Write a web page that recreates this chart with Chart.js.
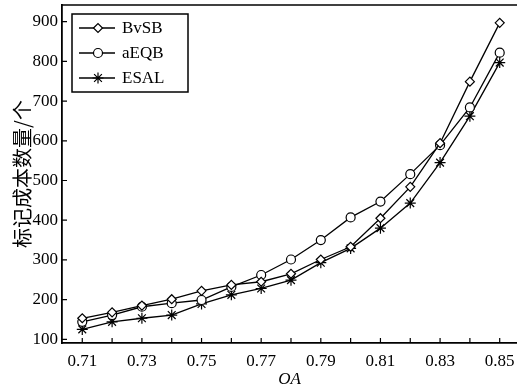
<!DOCTYPE html>
<html>
<head>
<meta charset="utf-8">
<script src="https://cdn.jsdelivr.net/npm/chart.js@4/dist/chart.umd.min.js"></script>
<style>
  html, body { margin: 0; padding: 0; background: #fff; overflow: hidden; }
  #chart { display: block; }
</style>
</head>
<body>
<canvas id="chart" width="517" height="390"></canvas>
<script>
// --- data ---
const oaValues = [0.71, 0.72, 0.73, 0.74, 0.75, 0.76, 0.77, 0.78, 0.79, 0.80, 0.81, 0.82, 0.83, 0.84, 0.85];
const bvsbCost = [153, 168, 185, 201, 222, 237, 245, 265, 301, 333, 405, 484, 594, 749, 897];
const aeqbCost = [144, 161, 182, 191, 199, 232, 262, 301, 350, 407, 447, 516, 589, 684, 822];
const esalCost = [125, 144, 153, 161, 189, 212, 228, 249, 293, 329, 380, 443, 545, 662, 797];
const yTickValues = [100, 200, 300, 400, 500, 600, 700, 800, 900];
const xLabelValues = [0.71, 0.73, 0.75, 0.77, 0.79, 0.81, 0.83, 0.85];

const serif = "'Liberation Serif', 'DejaVu Serif', serif";
const toPoints = arr => arr.map((v, i) => ({ x: oaValues[i], y: v }));

function series(label, data, style, radius) {
    return {
        label, data: toPoints(data),
        borderColor: "#000", borderWidth: 1.3,
        pointStyle: style, pointRadius: radius,
        pointBackgroundColor: "#fff", pointBorderColor: "#000", pointBorderWidth: 1.2,
        fill: false, tension: 0, clip: false
    };
}

// --- inward ticks + top frame line ---
const framePlugin = {
    id: "frame",
    afterDraw(chart) {
        const { ctx, chartArea: a, scales } = chart;
        ctx.save();
        ctx.strokeStyle = "#000";
        ctx.lineWidth = 1.5;
        ctx.beginPath();
        ctx.moveTo(a.left, a.top); ctx.lineTo(a.right, a.top);
        ctx.stroke();
        ctx.lineWidth = 1.2;
        ctx.beginPath();
        scales.x.ticks.forEach(t => {
            const px = scales.x.getPixelForValue(t.value);
            ctx.moveTo(px, a.bottom); ctx.lineTo(px, a.bottom - 5);
        });
        scales.y.ticks.forEach(t => {
            const py = scales.y.getPixelForValue(t.value);
            ctx.moveTo(a.left, py); ctx.lineTo(a.left + 5, py);
        });
        ctx.stroke();
        ctx.restore();
    }
};

// --- legend box inside the plot ---
const legendPlugin = {
    id: "boxLegend",
    afterDraw(chart) {
        const { ctx, chartArea: a } = chart;
        const x0 = a.left + 10, y0 = a.top + 9, w = 116, h = 78;
        ctx.save();
        ctx.fillStyle = "#fff";
        ctx.fillRect(x0, y0, w, h);
        ctx.strokeStyle = "#000";
        ctx.lineWidth = 1.5;
        ctx.strokeRect(x0, y0, w, h);
        chart.data.datasets.forEach((ds, i) => {
            const cy = y0 + 14 + i * 25;
            ctx.lineWidth = 1.3;
            ctx.beginPath();
            ctx.moveTo(x0 + 7, cy); ctx.lineTo(x0 + 43, cy);
            ctx.stroke();
            ctx.fillStyle = "#fff";
            ctx.lineWidth = 1.2;
            Chart.helpers.drawPoint(ctx, { pointStyle: ds.pointStyle, radius: ds.pointRadius, borderWidth: 1.2, rotation: 0 }, x0 + 26, cy);
            ctx.fillStyle = "#000";
            ctx.font = "17px " + serif;
            ctx.textBaseline = "middle";
            ctx.textAlign = "left";
            ctx.fillText(ds.label, x0 + 50, cy + 1);
        });
        ctx.restore();
    }
};

new Chart(document.getElementById("chart"), {
    type: "line",
    data: {
        datasets: [
            series("BvSB", bvsbCost, "rectRot", 4.5),
            series("aEQB", aeqbCost, "circle", 4.5),
            series("ESAL", esalCost, "star", 5.5)
        ]
    },
    options: {
        responsive: false,
        animation: false,
        layout: { autoPadding: false, padding: { top: 5, right: 0, left: 0, bottom: 0 } },
        plugins: { legend: { display: false }, tooltip: { enabled: false } },
        scales: {
            x: {
                type: "linear",
                min: 0.7032, max: 0.8558,
                grid: { display: false, drawTicks: false },
                border: { display: true, color: "#000", width: 1.8 },
                afterBuildTicks: s => { s.ticks = oaValues.map(v => ({ value: v })); },
                afterFit: s => { s.height = 47; s.paddingRight = 0; s.paddingLeft = 0; },
                ticks: {
                    color: "#000", padding: 8, maxRotation: 0, autoSkip: false,
                    font: { family: serif, size: 17 },
                    callback: v => xLabelValues.some(l => Math.abs(l - v) < 1e-6) ? v.toFixed(2) : ""
                },
                title: {
                    display: true, text: "OA", color: "#000",
                    font: { family: serif, size: 17, style: "italic" },
                    padding: { top: 0, bottom: 0 }
                }
            },
            y: {
                min: 90.7, max: 942,
                grid: { display: false, drawTicks: false },
                border: { display: true, color: "#000", width: 1.8 },
                afterBuildTicks: s => { s.ticks = yTickValues.map(v => ({ value: v })); },
                afterFit: s => { s.width = 62; s.paddingTop = 0; s.paddingBottom = 0; },
                ticks: { color: "#000", padding: 4, font: { family: serif, size: 17 } },
                title: {
                    display: true, text: "标记成本数量/个", color: "#000",
                    font: { family: "'Noto Sans CJK SC', sans-serif", size: 20 },
                    padding: { top: 10, bottom: 0 }
                }
            }
        }
    },
    plugins: [framePlugin, legendPlugin]
});
</script>
</body>
</html>
